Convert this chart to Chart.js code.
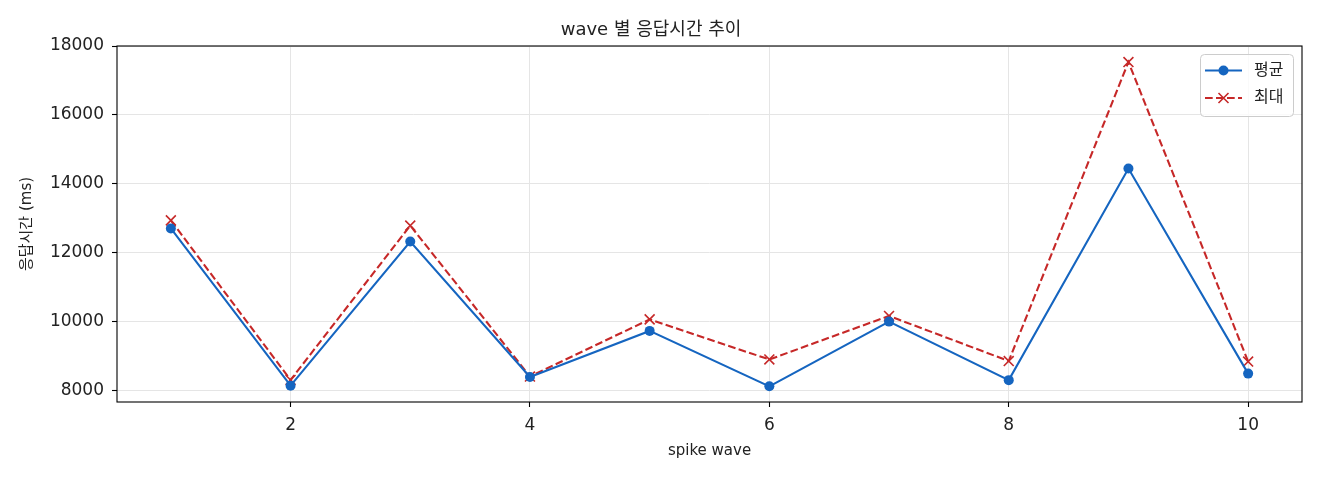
<!DOCTYPE html>
<html>
<head>
<meta charset="utf-8">
<script src="https://cdn.jsdelivr.net/npm/chart.js@4.4.1/dist/chart.umd.min.js"></script>
<style>
  html, body { margin: 0; padding: 0; background: #fff; }
  #wrap { width: 1320px; height: 480px; position: relative; }
</style>
</head>
<body>
<div id="wrap"><canvas id="chart1"></canvas></div>
<script>
// spike wave 별 응답시간 (ms)
var waves = [1, 2, 3, 4, 5, 6, 7, 8, 9, 10];
var avgMs = [12700, 8135, 12320, 8385, 9725, 8115, 9995, 8295, 14440, 8485];
var maxMs = [12935, 8300, 12785, 8400, 10060, 8895, 10160, 8850, 17535, 8835];

var xTicks = [2, 4, 6, 8, 10];
var yTicks = [8000, 10000, 12000, 14000, 16000, 18000];

var FONT = '"DejaVu Sans", "Noto Sans CJK KR", sans-serif';
var BLUE = "#1565C0";
var RED = "#C62828";
var INK = "#222222";

function toPoints(vals){
    return waves.map(function(w, i){ return {x: w, y: vals[i]}; });
}

// 네 변 테두리 (matplotlib spines)
var framePlugin = {
    id: "frame",
    afterDatasetsDraw: function(chart){
        var a = chart.chartArea, ctx = chart.ctx;
        ctx.save();
        ctx.strokeStyle = "#000";
        ctx.lineWidth = 1.1;
        ctx.strokeRect(a.left, a.top, a.right - a.left, a.bottom - a.top);
        ctx.restore();
    }
};

// 우측 상단 범례
var legendPlugin = {
    id: "boxLegend",
    afterDraw: function(chart){
        var ctx = chart.ctx;
        var bx = 1200.5, by = 54.5, bw = 93, bh = 62;
        ctx.save();
        ctx.beginPath();
        ctx.roundRect(bx, by, bw, bh, 4);
        ctx.fillStyle = "rgba(255,255,255,0.8)";
        ctx.fill();
        ctx.strokeStyle = "#cccccc";
        ctx.lineWidth = 1;
        ctx.stroke();

        var items = [
            {label: "평균", color: BLUE, dash: [], y: 70.5, marker: "circle"},
            {label: "최대", color: RED, dash: [7.7, 3.3], y: 98, marker: "x"}
        ];
        items.forEach(function(it){
            ctx.strokeStyle = it.color;
            ctx.lineWidth = 2.1;
            ctx.setLineDash(it.dash);
            ctx.beginPath();
            ctx.moveTo(1205, it.y);
            ctx.lineTo(1242, it.y);
            ctx.stroke();
            ctx.setLineDash([]);
            if (it.marker === "circle"){
                ctx.fillStyle = it.color;
                ctx.beginPath();
                ctx.arc(1223.5, it.y, 5, 0, Math.PI * 2);
                ctx.fill();
            } else {
                ctx.lineWidth = 1.6;
                ctx.beginPath();
                ctx.moveTo(1218.5, it.y - 5); ctx.lineTo(1228.5, it.y + 5);
                ctx.moveTo(1218.5, it.y + 5); ctx.lineTo(1228.5, it.y - 5);
                ctx.stroke();
            }
            ctx.fillStyle = INK;
            ctx.font = "16px " + FONT;
            ctx.textBaseline = "middle";
            ctx.textAlign = "left";
            ctx.fillText(it.label, 1254, it.y);
        });
        ctx.restore();
    }
};

var config = {
    type: "line",
    data: {
        datasets: [{
            label: "평균",
            data: toPoints(avgMs),
            borderColor: BLUE,
            backgroundColor: BLUE,
            borderWidth: 2.1,
            pointStyle: "circle",
            pointRadius: 5,
            pointBorderWidth: 0,
            pointBackgroundColor: BLUE,
            tension: 0
        }, {
            label: "최대",
            data: toPoints(maxMs),
            borderColor: RED,
            backgroundColor: RED,
            borderWidth: 2.1,
            borderDash: [7.7, 3.3],
            pointStyle: "crossRot",
            pointRadius: 7,
            pointBorderWidth: 1.6,
            pointBorderColor: RED,
            tension: 0
        }]
    },
    options: {
        responsive: true,
        maintainAspectRatio: false,
        animation: false,
        layout: { padding: { left: 0, right: 18, top: 0, bottom: 0 } },
        plugins: {
            legend: { display: false },
            tooltip: { enabled: false },
            title: {
                display: true,
                text: "wave 별 응답시간 추이",
                color: INK,
                font: { family: FONT, size: 18, weight: "normal" },
                padding: { top: 20, bottom: 4.4 }
            }
        },
        scales: {
            x: {
                type: "linear",
                min: 0.55,
                max: 10.45,
                afterBuildTicks: function(scale){
                    scale.ticks = xTicks.map(function(v){ return {value: v}; });
                },
                afterFit: function(scale){ scale.height = 78; },
                border: { display: false },
                grid: { color: "#e5e5e5", lineWidth: 1, tickColor: "#000", tickLength: 5, tickWidth: 1.1 },
                ticks: { color: INK, font: { family: FONT, size: 17 }, padding: 8, maxRotation: 0 },
                title: {
                    display: true,
                    text: "spike wave",
                    color: INK,
                    font: { family: FONT, size: 15 },
                    padding: { top: 0, bottom: 20 }
                }
            },
            y: {
                type: "linear",
                min: 7660,
                max: 18000,
                afterBuildTicks: function(scale){
                    scale.ticks = yTicks.map(function(v){ return {value: v}; });
                },
                afterFit: function(scale){ scale.width = 117; },
                border: { display: false },
                grid: { color: "#e5e5e5", lineWidth: 1, tickColor: "#000", tickLength: 5, tickWidth: 1.1 },
                ticks: {
                    color: INK,
                    font: { family: FONT, size: 17 },
                    padding: 8,
                    callback: function(v){ return String(v); }
                },
                title: {
                    display: true,
                    text: "응답시간 (ms)",
                    color: INK,
                    font: { family: FONT, size: 15 },
                    padding: { top: 18, bottom: 0 }
                }
            }
        }
    },
    plugins: [framePlugin, legendPlugin]
};

var canvas = document.getElementById("chart1").getContext("2d");
window.line = new Chart(canvas, config);
</script>
</body>
</html>
